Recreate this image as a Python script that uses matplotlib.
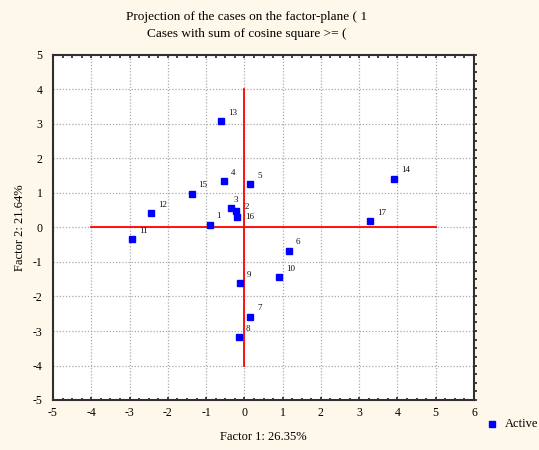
import matplotlib
matplotlib.use("Agg")
import matplotlib.pyplot as plt
from matplotlib.lines import Line2D
from matplotlib.ticker import MultipleLocator

case_ids = ["1", "2", "3", "4", "5", "6", "7", "8", "9", "10",
            "11", "12", "13", "14", "15", "16", "17"]
factor1 = [-0.91, -0.22, -0.35, -0.53, 0.16, 1.17, 0.16, -0.14, -0.11, 0.90,
           -2.94, -2.43, -0.61, 3.92, -1.38, -0.19, 3.28]
factor2 = [0.08, 0.48, 0.56, 1.35, 1.25, -0.67, -2.58, -3.18, -1.61, -1.43,
           -0.34, 0.42, 3.08, 1.42, 0.98, 0.31, 0.18]

title_lines = ["Projection of the cases on the factor-plane ( 1",
               "Cases with sum of cosine square >= ("]
x_label = "Factor 1: 26.35%"
y_label = "Factor 2: 21.64%"

# label offsets in points (most labels sit up and right of the marker)
label_offset = {"3": (2, 6), "2": (6, 3), "16": (6, 0)}

plt.rcParams["font.family"] = ["Liberation Serif", "DejaVu Serif"]
plt.rcParams["axes.unicode_minus"] = False

bg = "#fef8ea"
fig = plt.figure(figsize=(5.39, 4.5), dpi=100, facecolor=bg)
ax = fig.add_axes([53 / 539, 1 - 400 / 450, 421 / 539, 345 / 450])
ax.set_facecolor("white")

ax.set_xlim(-5, 6)
ax.set_ylim(-5, 5)
ax.xaxis.set_major_locator(MultipleLocator(1))
ax.yaxis.set_major_locator(MultipleLocator(1))
ax.xaxis.set_minor_locator(MultipleLocator(0.25))
ax.yaxis.set_minor_locator(MultipleLocator(0.25))
ax.tick_params(axis="x", which="both", direction="in", top=True, bottom=True,
               color="#202020", labelsize=8.5, pad=5, width=1.2)
ax.tick_params(axis="y", which="both", direction="out", left=False, right=True,
               labelleft=True, color="#202020", labelsize=8.5, pad=5, width=1.2)
ax.tick_params(which="major", length=2.5)
ax.tick_params(which="minor", length=1.8)
ax.grid(True, which="major", color="#aaaaaa", linestyle=(0, (1, 1.5)), linewidth=0.9)
ax.set_axisbelow(True)
for sp in ax.spines.values():
    sp.set_linewidth(1.5)
    sp.set_color("#303030")

ax.plot([-4, 5], [0, 0], color="red", linewidth=1.3, zorder=2)
ax.plot([0, 0], [-4, 4], color="red", linewidth=1.3, zorder=2)

ax.plot(factor1, factor2, linestyle="none", marker="s", markersize=4,
        color="#0000ff", zorder=3)
for cid, x, y in zip(case_ids, factor1, factor2):
    dx, dy = label_offset.get(cid, (5, 6))
    ax.annotate(cid, (x, y), xytext=(dx, dy), textcoords="offset points",
                fontsize=6.5, color="#101010", ha="left", va="center")

ax.set_xlabel(x_label, fontsize=9)
ax.set_ylabel(y_label, fontsize=9)
ax.xaxis.set_label_coords(0.5, -0.107)
ax.yaxis.set_label_coords(-0.078, 0.5)
ax.xaxis.label.set_va("center")
ax.yaxis.label.set_va("center")

fig.text(247 / 539, 1 - 17 / 450, title_lines[0], fontsize=9.5, ha="center", va="center")
fig.text(247 / 539, 1 - 34 / 450, title_lines[1], fontsize=9.5, ha="center", va="center")

fig.add_artist(Line2D([492 / 539], [1 - 424 / 450], transform=fig.transFigure,
                      marker="s", markersize=4, color="#0000ff", linestyle="none"))
fig.text(505 / 539, 1 - 424 / 450, "Active", fontsize=9, ha="left", va="center")

fig.savefig("out.png", dpi=100, facecolor=bg)
